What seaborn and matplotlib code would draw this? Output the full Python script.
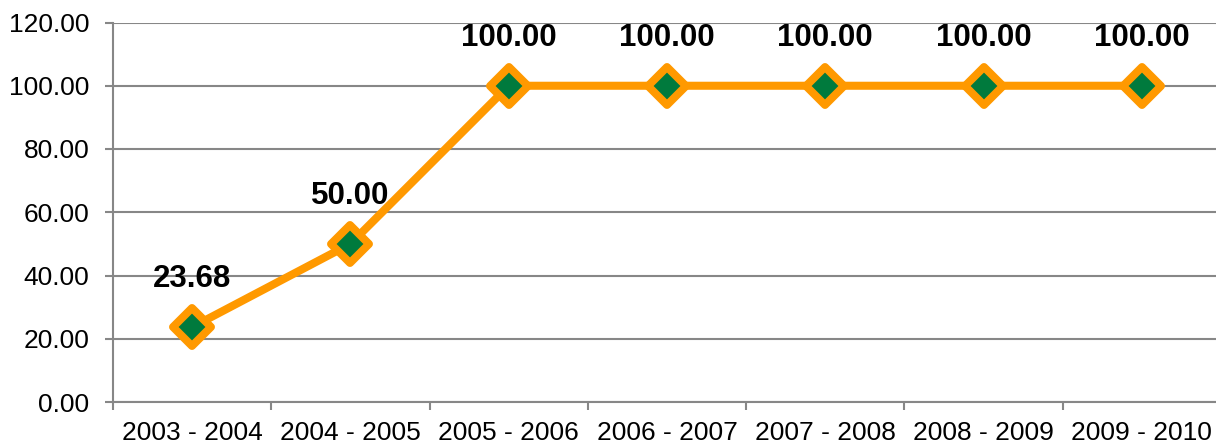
import numpy as np
import pandas as pd
import matplotlib
matplotlib.use("Agg")
import matplotlib.pyplot as plt
from matplotlib.markers import MarkerStyle
import seaborn as sns
from matplotlib.ticker import FixedLocator, NullFormatter, FixedFormatter

categories = ["2003 - 2004", "2004 - 2005", "2005 - 2006", "2006 - 2007",
              "2007 - 2008", "2008 - 2009", "2009 - 2010"]
values = [23.68, 50.00, 100.00, 100.00, 100.00, 100.00, 100.00]
yticks = [0, 20, 40, 60, 80, 100, 120]

sns.set_theme(style="white")
plt.rcParams['font.family'] = ['Liberation Sans', 'DejaVu Sans']

LINE = "#FF9900"
GREEN = "#007A3D"
GRID = "#878787"

fig = plt.figure(figsize=(12.16, 4.46), dpi=100)
ax = fig.add_axes([113/1216, 44/446, (1221-113)/1216, (402-22.5)/446])

pos = np.arange(len(categories))
df = pd.DataFrame({"x": pos, "y": values})
sns.lineplot(data=df, x="x", y="y", ax=ax, color=LINE, linewidth=5.8,
             marker=MarkerStyle("D", joinstyle="round"), markersize=19,
             markerfacecolor=GREEN, markeredgecolor=LINE, markeredgewidth=5.7,
             zorder=3)

for xi, v in zip(pos, values):
    ax.annotate(f"{v:.2f}", (xi, v), xytext=(0, 34.5), textcoords="offset points",
                ha="center", va="center", fontsize=22.5, fontweight="bold",
                color="black", zorder=4)

ax.set_xlim(-0.5, len(categories) - 0.5)
ax.set_ylim(0, 120)
ax.set_yticks(yticks)
ax.set_yticklabels([f"{t:.2f}" for t in yticks])
ax.yaxis.grid(True, color=GRID, linewidth=1.5)
ax.set_axisbelow(True)

ax.xaxis.set_major_locator(FixedLocator(np.arange(-0.5, len(categories) - 0.5, 1.0)))
ax.xaxis.set_major_formatter(NullFormatter())
ax.xaxis.set_minor_locator(FixedLocator(pos))
ax.xaxis.set_minor_formatter(FixedFormatter(categories))
ax.tick_params(axis="x", which="major", direction="out", length=6, width=1.5,
               color=GRID, bottom=True)
ax.tick_params(axis="x", which="minor", length=0, labelsize=19, pad=14,
               labelcolor="black", bottom=True)
ax.tick_params(axis="y", direction="out", length=6, width=1.5, color=GRID,
               labelsize=19, pad=11, left=True, labelcolor="black")

for s in ["top", "right"]:
    ax.spines[s].set_visible(False)
for s in ["left", "bottom"]:
    ax.spines[s].set_color(GRID)
    ax.spines[s].set_linewidth(1.5)

ax.set_xlabel("")
ax.set_ylabel("")
fig.savefig("out.png", dpi=100)
